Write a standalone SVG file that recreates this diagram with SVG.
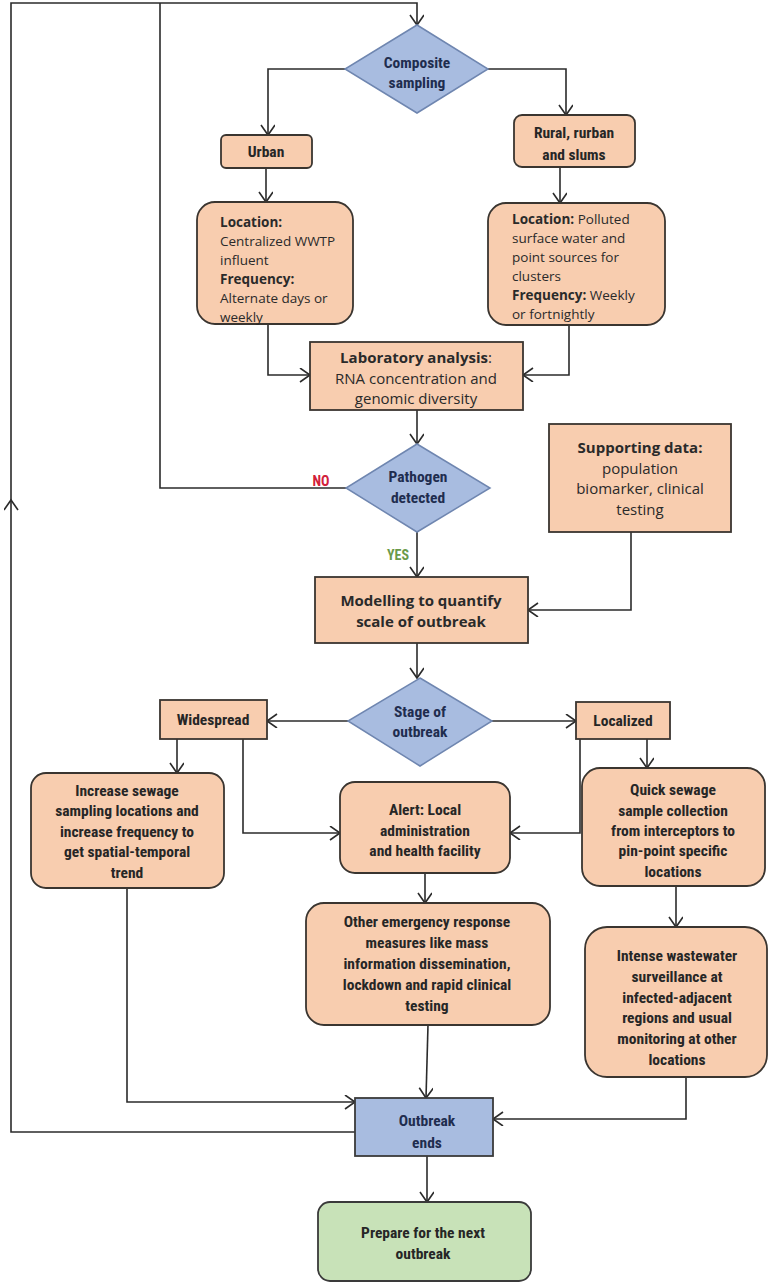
<svg xmlns="http://www.w3.org/2000/svg" width="775" height="1285" viewBox="0 0 775 1285">
<style>
.box{fill:#F8CDAF;stroke:#3a3530;stroke-width:1.8}
.dia{fill:#A8BCE0;stroke:#6f86b0;stroke-width:1.5}
.blue{fill:#A8BCE0;stroke:#3a3a3a;stroke-width:1.8}
.green{fill:#C8E2B8;stroke:#3a3a3a;stroke-width:1.8}
.c{fill:none;stroke:#2b2b2b;stroke-width:1.6}
.n{font-family:"Liberation Sans Narrow","Roboto Condensed","Liberation Sans",sans-serif;font-weight:bold;font-size:15.5px;fill:#262626;text-anchor:middle}
.nd{font-family:"Liberation Sans Narrow","Roboto Condensed","Liberation Sans",sans-serif;font-weight:bold;font-size:15.5px;fill:#1f2d4f;text-anchor:middle}
.r{font-family:"Open Sans","Liberation Sans",sans-serif;font-size:13.5px;fill:#2a2a2a}
.rc{font-family:"Open Sans","Liberation Sans",sans-serif;font-size:15px;fill:#2a2a2a;text-anchor:middle}
.b{font-weight:bold}
</style>
<defs>
<marker id="a" markerUnits="userSpaceOnUse" markerWidth="16" markerHeight="16" refX="11" refY="7" orient="auto">
<path d="M1,0 L11,7 L1,14" fill="none" stroke="#2b2b2b" stroke-width="1.6"/>
</marker>
</defs>

<g id="connectors">
<path class="c" d="M355,1132 H11 V500" marker-end="url(#a)"/>
<path class="c" d="M11,502 V3 H417 V25" marker-end="url(#a)"/>
<path class="c" d="M346,488 H160 V3"/>
<path class="c" d="M345,69 H268 V135" marker-end="url(#a)"/>
<path class="c" d="M487,69 H566 V115" marker-end="url(#a)"/>
<path class="c" d="M266,168 V202" marker-end="url(#a)"/>
<path class="c" d="M560,167 V203" marker-end="url(#a)"/>
<path class="c" d="M268,324 V375 H310" marker-end="url(#a)"/>
<path class="c" d="M569,325 V375 H523" marker-end="url(#a)"/>
<path class="c" d="M417,410 V444" marker-end="url(#a)"/>
<path class="c" d="M417,532 V577" marker-end="url(#a)"/>
<path class="c" d="M631,532 V610 H528" marker-end="url(#a)"/>
<path class="c" d="M417,643 V678" marker-end="url(#a)"/>
<path class="c" d="M348,721 H267" marker-end="url(#a)"/>
<path class="c" d="M492,721 H576" marker-end="url(#a)"/>
<path class="c" d="M177,739 V773" marker-end="url(#a)"/>
<path class="c" d="M243,739 V833 H340" marker-end="url(#a)"/>
<path class="c" d="M580,739 V833 H510" marker-end="url(#a)"/>
<path class="c" d="M647,739 V768" marker-end="url(#a)"/>
<path class="c" d="M425,873 V903" marker-end="url(#a)"/>
<path class="c" d="M676,886 V927" marker-end="url(#a)"/>
<path class="c" d="M428,1025 L426,1098" marker-end="url(#a)"/>
<path class="c" d="M127,888 V1102 H355" marker-end="url(#a)"/>
<path class="c" d="M686,1077 V1119 H493" marker-end="url(#a)"/>
<path class="c" d="M427,1156 V1202" marker-end="url(#a)"/>
</g>

<g id="composite">
<polygon class="dia" points="417,25 488,69 417,113 345,69"/>
<text class="nd" x="417" y="68">Composite</text>
<text class="nd" x="417" y="88">sampling</text>
</g>

<g id="urban">
<rect class="box" x="221" y="135" width="91" height="33" rx="5"/>
<text class="n" x="266" y="157">Urban</text>
</g>

<g id="rural">
<rect class="box" x="514" y="115" width="121" height="52" rx="8"/>
<text class="n" x="574" y="138">Rural, rurban</text>
<text class="n" x="574" y="160">and slums</text>
</g>

<g id="urban-location">
<rect class="box" x="197" y="202" width="156" height="122" rx="18"/>
<text class="r" x="220" y="227"><tspan class="b">Location:</tspan></text>
<text class="r" x="220" y="246">Centralized WWTP</text>
<text class="r" x="220" y="265">influent</text>
<text class="r" x="220" y="284"><tspan class="b">Frequency:</tspan></text>
<text class="r" x="220" y="303">Alternate days or</text>
<text class="r" x="220" y="322">weekly</text>
</g>

<g id="rural-location">
<rect class="box" x="488" y="203" width="177" height="122" rx="18"/>
<text class="r" x="512" y="224"><tspan class="b">Location:</tspan> Polluted</text>
<text class="r" x="512" y="243">surface water and</text>
<text class="r" x="512" y="262">point sources for</text>
<text class="r" x="512" y="281">clusters</text>
<text class="r" x="512" y="300"><tspan class="b">Frequency:</tspan> Weekly</text>
<text class="r" x="512" y="319">or fortnightly</text>
</g>

<g id="lab">
<rect class="box" x="310" y="342" width="213" height="68" rx="0"/>
<text class="rc" x="416" y="363"><tspan class="b">Laboratory analysis</tspan>:</text>
<text class="rc" x="416" y="384">RNA concentration and</text>
<text class="rc" x="416" y="404">genomic diversity</text>
</g>

<g id="pathogen">
<polygon class="dia" points="417,444 490,488 417,532 346,488"/>
<text class="nd" x="418" y="482">Pathogen</text>
<text class="nd" x="418" y="503">detected</text>
</g>

<text x="321" y="486" font-family="Liberation Sans Narrow, Roboto Condensed, Liberation Sans, sans-serif" font-size="14" font-weight="bold" fill="#d2203a" text-anchor="middle">NO</text>
<text x="398" y="560" font-family="Liberation Sans Narrow, Roboto Condensed, Liberation Sans, sans-serif" font-size="14" font-weight="bold" fill="#6a9a4a" text-anchor="middle">YES</text>

<g id="supporting">
<rect class="box" x="549" y="424" width="182" height="108"/>
<text class="rc" x="640" y="453"><tspan class="b">Supporting data:</tspan></text>
<text class="rc" x="640" y="474">population</text>
<text class="rc" x="640" y="494">biomarker, clinical</text>
<text class="rc" x="640" y="515">testing</text>
</g>

<g id="modelling">
<rect class="box" x="315" y="577" width="213" height="66"/>
<text class="rc b" x="421" y="606">Modelling to quantify</text>
<text class="rc b" x="421" y="627">scale of outbreak</text>
</g>

<g id="stage">
<polygon class="dia" points="420,678 492,721 420,766 348,721"/>
<text class="nd" x="420" y="717">Stage of</text>
<text class="nd" x="420" y="737">outbreak</text>
</g>

<g id="widespread">
<rect class="box" x="160" y="700" width="107" height="39"/>
<text class="n" x="213" y="725">Widespread</text>
</g>

<g id="localized">
<rect class="box" x="576" y="702" width="94" height="37"/>
<text class="n" x="623" y="726">Localized</text>
</g>

<g id="increase">
<rect class="box" x="31" y="773" width="193" height="115" rx="15"/>
<text class="n" x="127" y="796">Increase sewage</text>
<text class="n" x="127" y="816">sampling locations and</text>
<text class="n" x="127" y="837">increase frequency to</text>
<text class="n" x="127" y="857">get spatial-temporal</text>
<text class="n" x="127" y="878">trend</text>
</g>

<g id="alert">
<rect class="box" x="340" y="782" width="170" height="91" rx="15"/>
<text class="n" x="425" y="815">Alert: Local</text>
<text class="n" x="425" y="836">administration</text>
<text class="n" x="425" y="856">and health facility</text>
</g>

<g id="quick">
<rect class="box" x="582" y="768" width="183" height="118" rx="18"/>
<text class="n" x="673" y="795">Quick sewage</text>
<text class="n" x="673" y="816">sample collection</text>
<text class="n" x="673" y="836">from interceptors to</text>
<text class="n" x="673" y="856">pin-point specific</text>
<text class="n" x="673" y="877">locations</text>
</g>

<g id="other">
<rect class="box" x="306" y="903" width="244" height="122" rx="18"/>
<text class="n" x="427" y="927">Other emergency response</text>
<text class="n" x="427" y="948">measures like mass</text>
<text class="n" x="427" y="969">information dissemination,</text>
<text class="n" x="427" y="990">lockdown and rapid clinical</text>
<text class="n" x="427" y="1011">testing</text>
</g>

<g id="intense">
<rect class="box" x="585" y="927" width="182" height="150" rx="22"/>
<text class="n" x="677" y="961">Intense wastewater</text>
<text class="n" x="677" y="982">surveillance at</text>
<text class="n" x="677" y="1003">infected-adjacent</text>
<text class="n" x="677" y="1023">regions and usual</text>
<text class="n" x="677" y="1044">monitoring at other</text>
<text class="n" x="677" y="1065">locations</text>
</g>

<g id="outbreak-ends">
<rect class="blue" x="355" y="1098" width="138" height="58"/>
<text class="nd" x="427" y="1126">Outbreak</text>
<text class="nd" x="427" y="1148">ends</text>
</g>

<g id="prepare">
<rect class="green" x="318" y="1202" width="213" height="79" rx="12"/>
<text class="n" x="423" y="1238">Prepare for the next</text>
<text class="n" x="423" y="1259">outbreak</text>
</g>
</svg>
